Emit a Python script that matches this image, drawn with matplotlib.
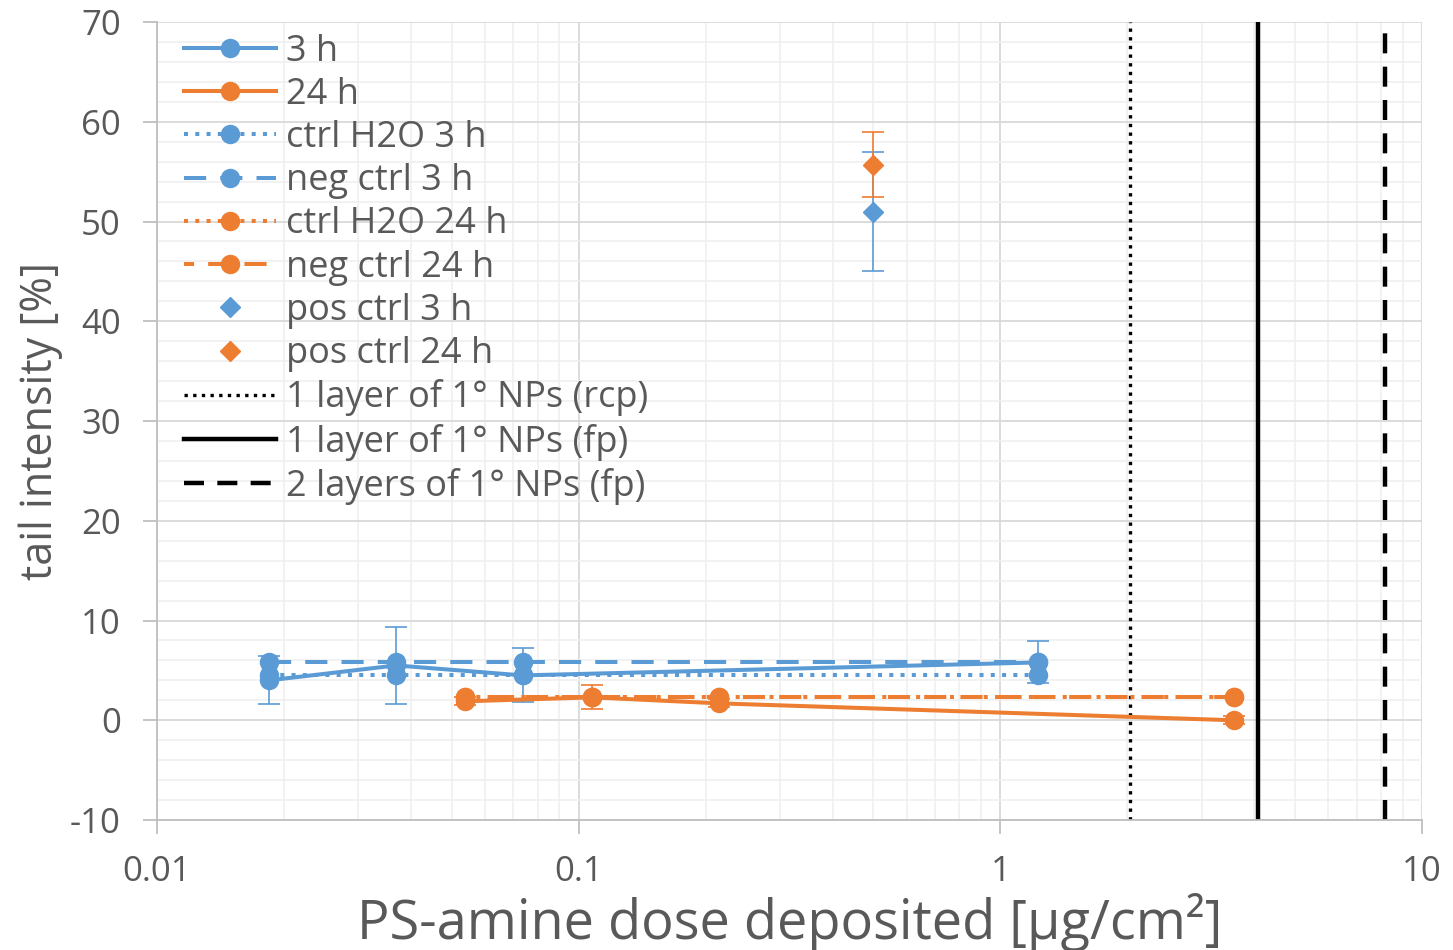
import numpy as np
import matplotlib.pyplot as plt
from matplotlib.ticker import FixedLocator, MultipleLocator, NullFormatter

plt.rcParams['font.family'] = ['Open Sans', 'DejaVu Sans']
plt.rcParams['axes.unicode_minus'] = False

blue = '#5B9BD5'
orange = '#ED7D31'
grey = '#595959'

# dose deposited [ug/cm2] and tail intensity [%]
dose_3h = [0.0184, 0.0369, 0.0737, 1.23]
tail_3h = [4.0, 5.5, 4.5, 5.8]
err_3h = [2.4, 3.9, 2.7, 2.1]

dose_24h = [0.0537, 0.1074, 0.215, 3.58]
tail_24h = [1.9, 2.3, 1.7, 0.0]
err_24h = [0.4, 1.2, 0.4, 0.4]

ctrl_h2o_3h = 4.5
neg_ctrl_3h = 5.8
ctrl_h2o_24h = 2.3
neg_ctrl_24h = 2.3

pos_dose = 0.5
pos_3h, pos_3h_err = 51.0, 6.0
pos_24h, pos_24h_err = 55.7, 3.25

layer_rcp = 2.03
layer_fp = 4.08
layers2_fp = 8.17

fig = plt.figure(figsize=(14.53, 9.5), dpi=100)
ax = fig.add_axes([0.108, 0.1368, 0.8707, 0.84])

lw = 2.9
ms = 13

ax.plot(dose_3h, tail_3h, '-', color=blue, lw=lw, marker='o', ms=ms, label='3 h', zorder=5)
ax.plot(dose_24h, tail_24h, '-', color=orange, lw=lw, marker='o', ms=ms, label='24 h', zorder=5)
ax.plot(dose_3h, [ctrl_h2o_3h] * len(dose_3h), color=blue, lw=lw, ls=(0, (1, 1.8)),
        marker='o', ms=ms, label='ctrl H2O 3 h', zorder=4)
ax.plot(dose_3h, [neg_ctrl_3h] * len(dose_3h), color=blue, lw=lw, ls=(0, (5.5, 3.5)),
        marker='o', ms=ms, label='neg ctrl 3 h', zorder=4)
ax.plot(dose_24h, [ctrl_h2o_24h] * len(dose_24h), color=orange, lw=lw, ls=(0, (1, 1.8)),
        marker='o', ms=ms, label='ctrl H2O 24 h', zorder=4)
ax.plot(dose_24h, [neg_ctrl_24h] * len(dose_24h), color=orange, lw=lw, ls=(3, (5.5, 3.5)),
        marker='o', ms=ms, label='neg ctrl 24 h', zorder=4)
ax.plot([pos_dose], [pos_3h], ls='none', color=blue, marker='D', ms=10, label='pos ctrl 3 h', zorder=5)
ax.plot([pos_dose], [pos_24h], ls='none', color=orange, marker='D', ms=10, label='pos ctrl 24 h', zorder=5)

# error bars
eb = dict(fmt='none', elinewidth=1.2, capsize=8, capthick=1.2, zorder=3)
ax.errorbar(dose_3h, tail_3h, yerr=err_3h, ecolor=blue, **eb)
ax.errorbar(dose_24h, tail_24h, yerr=err_24h, ecolor=orange, **eb)
ax.errorbar([pos_dose], [pos_3h], yerr=[pos_3h_err], ecolor=blue, **eb)
ax.errorbar([pos_dose], [pos_24h], yerr=[pos_24h_err], ecolor=orange, **eb)

# layer thresholds
ax.axvline(layer_rcp, color='black', lw=2.4, ls=(0, (1, 1.6)), label='1 layer of 1° NPs (rcp)')
ax.axvline(layer_fp, color='black', lw=3.2, ls='-', label='1 layer of 1° NPs (fp)')
ax.axvline(layers2_fp, color='black', lw=3.2, ls=(0, (4.5, 3)), label='2 layers of 1° NPs (fp)')

ax.set_xscale('log')
ax.set_xlim(0.01, 10)
ax.set_ylim(-10, 70)
ax.yaxis.set_major_locator(MultipleLocator(10))
ax.yaxis.set_minor_locator(MultipleLocator(2))
ax.xaxis.set_major_locator(FixedLocator([0.01, 0.1, 1, 10]))
ax.set_xticklabels(['0.01', '0.1', '1', '10'])
ax.xaxis.set_minor_formatter(NullFormatter())

ax.grid(which='major', color='#d9d9d9', lw=1.3)
ax.grid(which='minor', color='#efefef', lw=1.1)
ax.set_axisbelow(True)

for s in ['top', 'right']:
    ax.spines[s].set_visible(False)
for s in ['left', 'bottom']:
    ax.spines[s].set_color('#bfbfbf')
    ax.spines[s].set_linewidth(1.3)

ax.tick_params(axis='both', which='major', labelsize=25, labelcolor=grey, color='#bfbfbf', length=10, width=1.3)
ax.tick_params(axis='x', which='major', pad=15)
ax.tick_params(axis='y', which='major', pad=16)
ax.tick_params(which='minor', length=0)

ax.set_xlabel('PS-amine dose deposited [µg/cm²]', fontsize=39, color=grey, labelpad=3)
ax.set_ylabel('tail intensity [%]', fontsize=31, color=grey, labelpad=5)

leg = ax.legend(loc='upper left', bbox_to_anchor=(0.012, 1.0), frameon=False, fontsize=26,
                numpoints=1, handlelength=2.55, handletextpad=0.28, labelspacing=0.2,
                borderpad=0.0, borderaxespad=0.32)
for t in leg.get_texts():
    t.set_color(grey)

fig.savefig('out.png', dpi=100)
